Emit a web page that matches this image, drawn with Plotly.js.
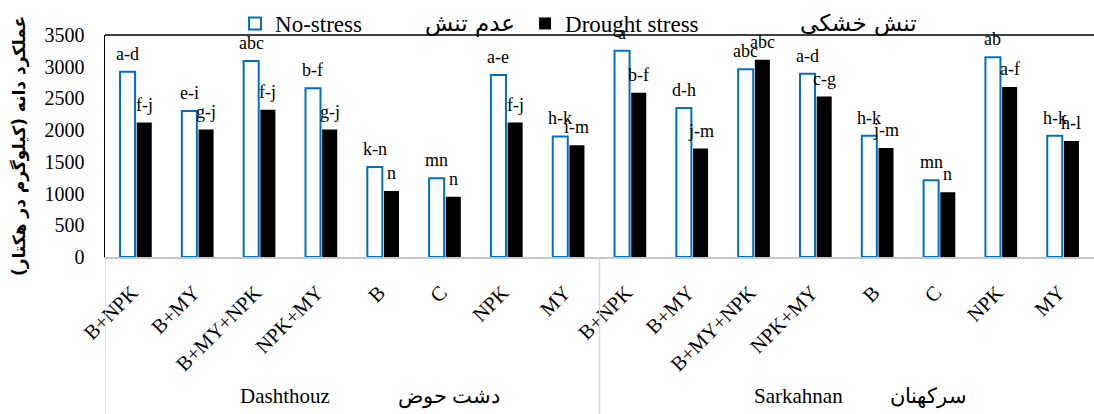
<!DOCTYPE html>
<html><head><meta charset="utf-8">
<script src="https://cdn.plot.ly/plotly-3.0.1.min.js"></script>
<style>html,body{margin:0;padding:0;background:#fff}</style>
</head><body><div id="chart" style="width:1094px;height:414px"></div>
<script>
const NB = "\u00a0";
const siteNames = ["Dashthouz", "Sarkahnan"];
const sitePersian = ["دشت حوض", "سرکهنان"];
const treatments = ["B+NPK","B+MY","B+MY+NPK","NPK+MY","B","C","NPK","MY"];
const noStress = [2920,2300,3090,2660,1420,1240,2870,1900, 3250,2350,2960,2890,1910,1210,3150,1910];
const droughtStress = [2120,2010,2320,2010,1040,950,2120,1760, 2590,1710,3110,2530,1720,1020,2680,1830];
const noStressLetters = ["a-d","e-i","abc","b-f","k-n","mn","a-e","h-k", "a","d-h","abc","a-d","h-k","mn","ab","h-k"];
const droughtLetters = ["f-j","g-j","f-j","g-j","n","n","f-j","i-m", "b-f","j-m","abc","c-g","j-m","n","a-f","h-l"];
const seriesNames = ["No-stress","Drought stress"];
const legendPersian = ["عدم تنش","تنش خشکی"];
const yTitle = "عملکرد دانه (کیلوگرم در هکتار)";

// one category key per (site, treatment); ticks show the treatment name
const keys = [], tickText = [];
siteNames.forEach(s => treatments.forEach(t => { keys.push(s + "|" + t); tickText.push(t); }));
const nT = treatments.length;

const traces = [
  {type:'bar', name:seriesNames[0], x:keys, y:noStress,
   marker:{color:'#ffffff', line:{color:'#0070C0', width:2}}},
  {type:'bar', name:seriesNames[1], x:keys, y:droughtStress,
   marker:{color:'#000000', line:{width:0}}}
];

const serif = '"Liberation Serif","Times New Roman",serif';
const ann = [];
noStress.forEach((v,i) => ann.push({x:keys[i], y:v, xref:'x', yref:'y', text:noStressLetters[i], showarrow:false,
  xshift:-8.4, yshift:18, xanchor:'center', yanchor:'middle', font:{family:serif, size:18, color:'#000'}}));
droughtStress.forEach((v,i) => ann.push({x:keys[i], y:v, xref:'x', yref:'y', text:droughtLetters[i], showarrow:false,
  xshift:8.4, yshift:18, xanchor:'center', yanchor:'middle', font:{family:serif, size:18, color:'#000'}}));
ann.push({xref:'paper', yref:'paper', x:0.369, y:1.05, xanchor:'center', yanchor:'middle', text:legendPersian[0], showarrow:false,
  font:{family:'"DejaVu Sans"', size:23, color:'#000'}});
ann.push({xref:'paper', yref:'paper', x:0.7614, y:1.05, xanchor:'center', yanchor:'middle', text:legendPersian[1], showarrow:false,
  font:{family:'"DejaVu Sans"', size:23, color:'#000'}});
const siteGaps = [13, 9];
const siteShift = [18, 14];
siteNames.forEach((s,k) => ann.push({
  xref:'x', yref:'paper', x:k*nT + (nT-1)/2, y:-0.63, xshift:siteShift[k],
  xanchor:'center', yanchor:'middle', showarrow:false,
  text:s + NB.repeat(siteGaps[k]) + sitePersian[k],
  font:{family:serif, size:21, color:'#000'}}));

// group dividers below the axis, at the start of each site's block
const shapes = [{type:'line', xref:'paper', yref:'paper', x0:0, x1:1, y0:1, y1:1, line:{color:'#000', width:1.5}}];
siteNames.forEach((s,k) => shapes.push({type:'line', xref:'x', yref:'paper', x0:k*nT-0.5, x1:k*nT-0.5,
  y0:0, y1:-0.71, line:{color:'#d9d9d9', width:1.5}}));

const layout = {
  width:1094, height:414,
  margin:{l:105, r:0, t:35, b:157, pad:0},
  barmode:'group', bargap:0.46, bargroupgap:0.1,
  paper_bgcolor:'#fff', plot_bgcolor:'#fff',
  font:{family:serif, size:19, color:'#000'},
  xaxis:{type:'category', tickmode:'array', tickvals:keys, ticktext:tickText, tickangle:-45,
    showline:true, linecolor:'#c8c8c8', linewidth:1.5, range:[-0.5, keys.length-0.5],
    ticks:'', showgrid:false, zeroline:false, automargin:false, ticklabelstandoff:14, ticklabelshift:-4,
    tickfont:{family:serif, size:20.5}},
  yaxis:{range:[0,3500], dtick:500, showline:true, linecolor:'#000', linewidth:1.5,
    showgrid:false, zeroline:false, ticks:'', ticklabelstandoff:15, automargin:false,
    tickfont:{family:serif, size:20},
    title:{text:yTitle, standoff:14, font:{family:'"DejaVu Sans"', size:17, weight:'bold', color:'#000'}}},
  legend:{orientation:'h', xref:'paper', yref:'paper', x:0.1315, y:1.1486,
    xanchor:'left', yanchor:'top', font:{family:serif, size:23, color:'#000'},
    entrywidth:245, entrywidthmode:'pixels', bgcolor:'rgba(0,0,0,0)', traceorder:'normal'},
  shapes:shapes,
  annotations:ann
};
Plotly.newPlot('chart', traces, layout, {displayModeBar:false, staticPlot:true});
</script></body></html>
